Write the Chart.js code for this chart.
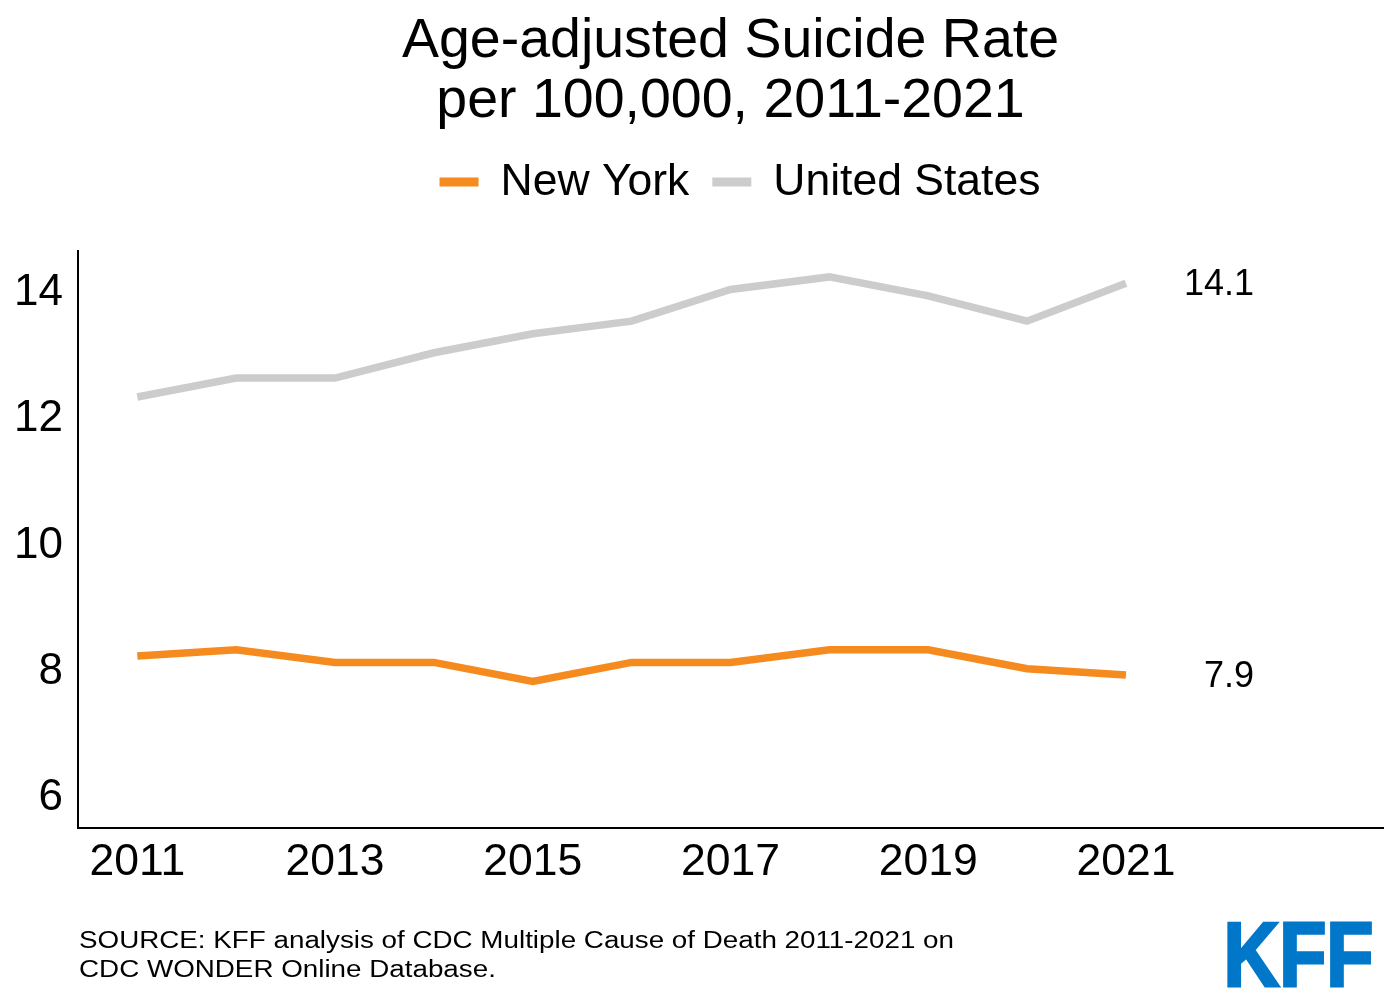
<!DOCTYPE html>
<html>
<head>
<meta charset="utf-8">
<script src="https://cdn.jsdelivr.net/npm/chart.js@4.4.1/dist/chart.umd.min.js"></script>
<style>
    html, body { margin: 0; padding: 0; background: #fff; }
    #wrap { width: 1400px; height: 1000px; position: relative; }
</style>
</head>
<body>
<div id="wrap"><canvas id="chart" width="1400" height="1000"></canvas></div>
<script>
// Данные графика
const years = [2011, 2012, 2013, 2014, 2015, 2016, 2017, 2018, 2019, 2020, 2021];
const newYork = [8.2, 8.3, 8.1, 8.1, 7.8, 8.1, 8.1, 8.3, 8.3, 8.0, 7.9];
const unitedStates = [12.3, 12.6, 12.6, 13.0, 13.3, 13.5, 14.0, 14.2, 13.9, 13.5, 14.1];
const yTicks = [6, 8, 10, 12, 14];
const xTicks = [2011, 2013, 2015, 2017, 2019, 2021];
const titleLines = ['Age-adjusted Suicide Rate', 'per 100,000, 2011-2021'];
const sourceLines = [
    'SOURCE: KFF analysis of CDC Multiple Cause of Death 2011-2021 on',
    'CDC WONDER Online Database.'
];

const FONT = 'Arial, "Liberation Sans", sans-serif';
// в оригинале подписи оси Y стоят чуть ниже своих значений
const Y_LABEL_SHIFT = 0.05;

function toPoints(values) {
    return years.map((y, i) => ({ x: y, y: values[i] }));
}

// Заголовок, легенда, подписи последних значений, источник и логотип
const decorations = {
    id: 'decorations',
    afterDraw(chart) {
        const ctx = chart.ctx;
        const area = chart.chartArea;
        const cx = (area.left + area.right) / 2;
        ctx.save();
        ctx.fillStyle = '#000';

        // заголовок
        ctx.font = '55.5px ' + FONT;
        ctx.textAlign = 'center';
        ctx.textBaseline = 'alphabetic';
        ctx.fillText(titleLines[0], cx, 57);
        ctx.fillText(titleLines[1], cx, 117);

        // легенда
        ctx.font = '44.5px ' + FONT;
        const sets = chart.data.datasets;
        const lineW = 39, gapText = 22, gapItem = 23;
        let total = 0;
        sets.forEach((ds, i) => {
            total += lineW + gapText + ctx.measureText(ds.label).width;
            if (i < sets.length - 1) total += gapItem;
        });
        let x = 740 - total / 2;
        const ly = 182;
        ctx.textAlign = 'left';
        ctx.textBaseline = 'middle';
        sets.forEach((ds) => {
            ctx.fillStyle = ds.borderColor;
            ctx.fillRect(x, ly - 4.5, lineW, 9);
            x += lineW + gapText;
            ctx.fillStyle = '#000';
            ctx.fillText(ds.label, x, ly + 1);
            x += ctx.measureText(ds.label).width + gapItem;
        });

        // подписи последних значений
        const xs = chart.scales.x;
        const ys = chart.scales.y;
        ctx.font = '36px ' + FONT;
        ctx.textAlign = 'right';
        ctx.textBaseline = 'middle';
        sets.forEach((ds) => {
            const last = ds.data[ds.data.length - 1];
            ctx.fillText(last.y.toFixed(1), xs.getPixelForValue(last.x) + 128, ys.getPixelForValue(last.y) + 2);
        });

        // источник (растянут по ширине, как в оригинале)
        ctx.font = '23px ' + FONT;
        ctx.textAlign = 'left';
        ctx.textBaseline = 'alphabetic';
        const sx = 875 / ctx.measureText(sourceLines[0]).width;
        ctx.save();
        ctx.translate(79, 0);
        ctx.scale(sx, 1);
        ctx.fillText(sourceLines[0], 0, 948);
        ctx.fillText(sourceLines[1], 0, 977);
        ctx.restore();

        // логотип KFF
        ctx.fillStyle = '#0077c8';
        ctx.strokeStyle = '#0077c8';
        ctx.lineWidth = 3;
        ctx.lineJoin = 'miter';
        ctx.font = 'bold 90px ' + FONT;
        const kx = 150 / ctx.measureText('KFF').width;
        ctx.translate(1223.5, 986);
        ctx.scale(kx, 1);
        ctx.fillText('KFF', 0, 0);
        ctx.strokeText('KFF', 0, 0);
        ctx.restore();
    }
};

const canvas = document.getElementById('chart').getContext('2d');
window.canvasObj = new Chart(canvas, {
    type: 'line',
    data: {
        datasets: [{
            label: 'New York',
            data: toPoints(newYork),
            borderColor: '#f58a1f',
            backgroundColor: '#f58a1f',
            borderWidth: 7.5,
            pointRadius: 0,
            tension: 0
        }, {
            label: 'United States',
            data: toPoints(unitedStates),
            borderColor: '#cccccc',
            backgroundColor: '#cccccc',
            borderWidth: 7.5,
            pointRadius: 0,
            tension: 0
        }]
    },
    options: {
        responsive: false,
        animation: false,
        layout: { padding: { top: 251, right: 17, bottom: 0, left: 0 } },
        plugins: {
            legend: { display: false },
            title: { display: false },
            tooltip: { enabled: false }
        },
        scales: {
            x: {
                type: 'linear',
                min: 2010.4,
                max: 2023.6,
                grid: { display: false, drawTicks: false },
                border: { display: true, color: '#000', width: 2 },
                afterBuildTicks: (scale) => { scale.ticks = xTicks.map(v => ({ value: v })); },
                afterFit: (scale) => { scale.height = 172; },
                ticks: {
                    color: '#000',
                    padding: 8,
                    maxRotation: 0,
                    font: { family: FONT, size: 44.5 },
                    callback: (v) => String(v)
                }
            },
            y: {
                min: 5.48,
                max: 14.61,
                grid: { display: false, drawTicks: false },
                border: { display: true, color: '#000', width: 2 },
                afterBuildTicks: (scale) => { scale.ticks = yTicks.map(v => ({ value: v - Y_LABEL_SHIFT })); },
                afterFit: (scale) => { scale.width = 78; },
                ticks: {
                    color: '#000',
                    padding: 15,
                    font: { family: FONT, size: 44 },
                    callback: (v) => String(Math.round(v))
                }
            }
        }
    },
    plugins: [decorations]
});
</script>
</body>
</html>
